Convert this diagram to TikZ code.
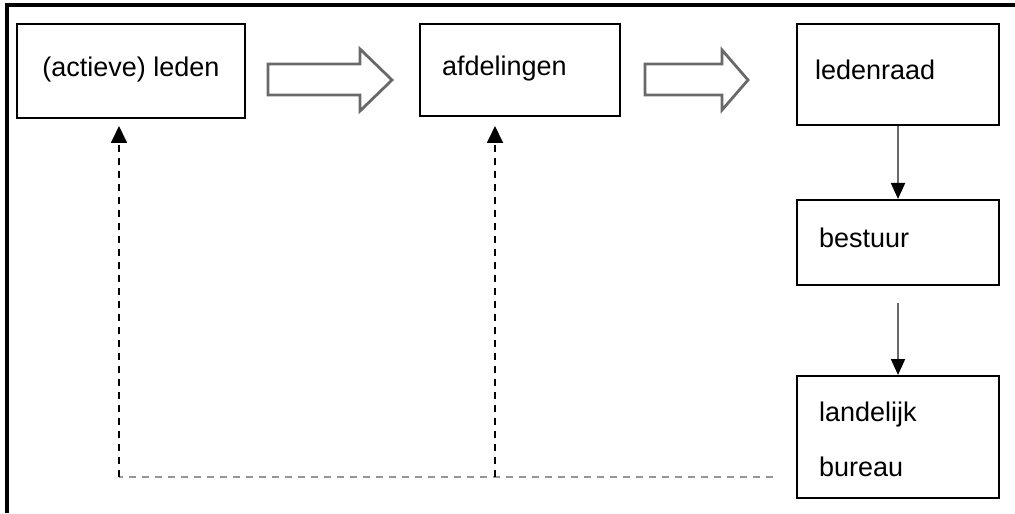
\documentclass[tikz,border=0pt]{standalone}
\usepackage{fontspec}
\setmainfont{Liberation Sans}
\usepackage{tikz}
\usetikzlibrary{arrows.meta, calc}
\definecolor{arrowgray}{RGB}{105,105,105}
\definecolor{dashgray}{RGB}{150,150,150}

\begin{document}
\begin{tikzpicture}[x=0.5pt, y=-0.5pt,
    box/.style={draw, line width=1pt, minimum width=101pt, inner xsep=11pt, inner ysep=0pt,
        text width=79pt, align=left, font=\fontsize{13.5}{27.5}\selectfont},
    oneline/.style={text height=0.72em, text depth=0.21em},
    fatarrow/.style={draw=arrowgray, line width=1.4pt, fill=white, line join=miter},
    down/.style={draw=arrowgray, line width=1pt, -{Triangle[length=8pt, width=7pt, color=black]}},
    back/.style={line width=0.9pt, dash pattern=on 3.5pt off 3pt}]
    \useasboundingbox (0,0) rectangle (1015,513);
    % frame
    \draw[line width=2pt] (6.5,513) -- (6.5,5.5) -- (1015,5.5);
    % boxes
    \node[box, oneline, minimum width=114pt, text width=, align=center, minimum height=47pt] (leden) at (131,71) {(actieve) leden};
    \node[box, oneline, minimum width=100pt, text width=78pt, minimum height=46pt] (afdelingen) at (520,70) {afdelingen};
    \node[box, oneline, inner xsep=9pt, text width=83pt, minimum height=50.5pt] (ledenraad) at (898,74.5) {ledenraad};
    \node[box, oneline, minimum height=42.5pt] (bestuur) at (898,242.5) {bestuur};
    \node[box, text height=12.5pt, minimum height=61pt] (bureau) at (898,437) {landelijk\\bureau};
    % fat arrows
    \draw[fatarrow] (268,64) -- (360,64) -- (360,49) -- (392,80) -- (360,111) -- (360,95) -- (268,95) -- cycle;
    \draw[fatarrow] (645,64) -- (722,64) -- (722,50) -- (748,80) -- (722,110) -- (722,95) -- (645,95) -- cycle;
    % down arrows
    \draw[down] (ledenraad.south) -- (bestuur.north);
    \draw[down, shorten <=8.5pt] (bestuur.south) -- (bureau.north);
    % feedback
    \coordinate (dashend) at (773,477);
    \coordinate (c1) at (119,477);
    \coordinate (c2) at (495,477);
    \draw[back, draw=dashgray] (dashend) -- (c1);
    \draw[back, -{Triangle[length=8.5pt, width=8pt]}, shorten >=3.5pt] (c1) -- (c1 |- leden.south);
    \draw[back, -{Triangle[length=8.5pt, width=8pt]}, shorten >=4.5pt] (c2) -- (c2 |- afdelingen.south);
\end{tikzpicture}
\end{document}
